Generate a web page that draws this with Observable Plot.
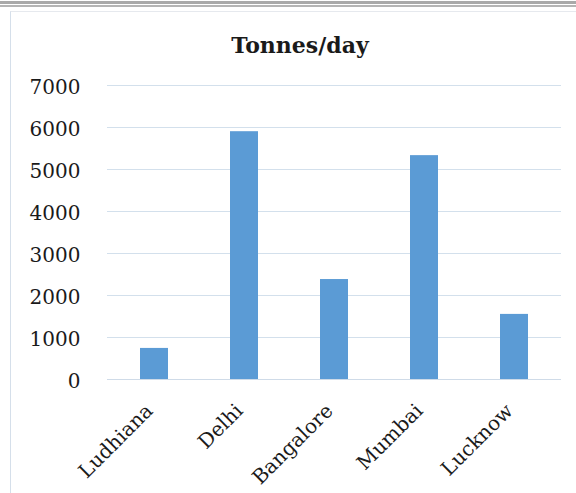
<!DOCTYPE html>
<html>
<head>
<meta charset="utf-8">
<script src="https://cdn.jsdelivr.net/npm/d3@7"></script>
<script src="https://cdn.jsdelivr.net/npm/@observablehq/plot@0.6"></script>
<style>
  html, body { margin: 0; padding: 0; background: #fff; }
  #wrap { position: relative; width: 576px; height: 493px; overflow: hidden; background: #fff; }
  .bar1 { position: absolute; left: 0; top: 1px; width: 576px; height: 3px; background: #a9a9a9; }
  .bar2 { position: absolute; left: 0; top: 5px; width: 576px; height: 2px; background: #b4b4b4; }
  .frame { position: absolute; left: 10px; top: 11px; width: 600px; height: 500px;
           border-left: 1px solid #d5dfea; border-top: 1px solid #e6e9ee; }
  #title { position: absolute; left: 0; top: 0; width: 600px; height: 65px; }
  #title span { position: absolute; left: 300px; top: 34px; transform: translateX(-50%);
                font-family: "DejaVu Serif", serif; font-weight: bold; font-size: 22px;
                color: #1a1a1a; white-space: nowrap; line-height: 1; }
  #chart { position: absolute; left: 0; top: 65px; }
</style>
</head>
<body>
<div id="wrap">
  <div class="bar1"></div>
  <div class="bar2"></div>
  <div class="frame"></div>
  <div id="title"><span>Tonnes/day</span></div>
  <div id="chart"></div>
</div>
<script>
const cities = ["Ludhiana", "Delhi", "Bangalore", "Mumbai", "Lucknow"];
const tonnes = [740, 5900, 2380, 5330, 1550];
const yTicks = [0, 1000, 2000, 3000, 4000, 5000, 6000, 7000];

const data = cities.map((c, i) => ({city: c, value: tonnes[i]}));

const plot = Plot.plot({
  width: 576,
  height: 428,
  marginLeft: 107,
  marginRight: 15,
  marginTop: 20,
  marginBottom: 114,
  style: {fontFamily: "DejaVu Serif, serif", fontSize: "20px", color: "#1a1a1a", background: "transparent"},
  x: {domain: cities, label: null, paddingInner: 0.69, paddingOuter: 0.345},
  y: {domain: [0, 7000], label: null},
  marks: [
    Plot.gridY(yTicks, {stroke: "#d3e0ec", strokeOpacity: 1, strokeWidth: 1}),
    Plot.barY(data, {x: "city", y: "value", fill: "#5b9bd5"}),
    Plot.ruleY([0], {stroke: "#cfdbe8", strokeWidth: 1}),
    Plot.axisY(yTicks, {tickSize: 0, tickPadding: 27, tickFormat: d => String(d), label: null, dy: 2}),
    Plot.axisX({tickSize: 0, tickPadding: 28, tickRotate: -45, label: null, dx: -5})
  ]
});
document.getElementById("chart").appendChild(plot);
</script>
</body>
</html>
